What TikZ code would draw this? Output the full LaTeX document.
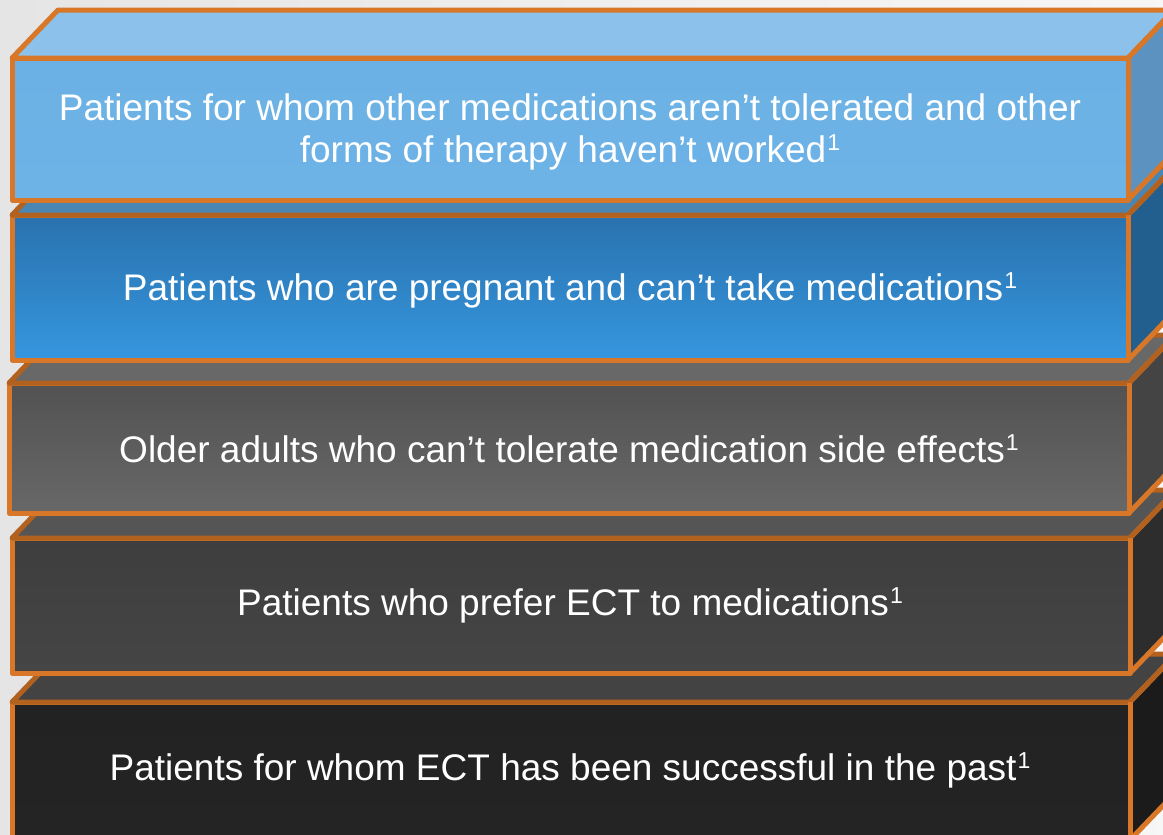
\documentclass[tikz,border=0pt]{standalone}
\usepackage{fontspec}
\setmainfont{Liberation Sans}
\definecolor{edge}{HTML}{D97729}
\definecolor{edgedark}{HTML}{B2611F}
\definecolor{bg}{HTML}{F1F1F1}
\definecolor{aTop}{HTML}{8BC1EA}
\definecolor{aFrontT}{HTML}{6BB1E5}
\definecolor{aFrontM}{HTML}{6CB2E6}
\definecolor{aFrontB}{HTML}{6DB3E6}
\definecolor{aSide}{HTML}{5B92BF}
\definecolor{bTop}{HTML}{4A86B3}
\definecolor{bFrontT}{HTML}{2A72AE}
\definecolor{bFrontM}{HTML}{3190D6}
\definecolor{bFrontB}{HTML}{3596DE}
\definecolor{bSide}{HTML}{235F8E}
\definecolor{cTop}{HTML}{686868}
\definecolor{cFrontT}{HTML}{525252}
\definecolor{cFrontM}{HTML}{5E5E5E}
\definecolor{cFrontB}{HTML}{686868}
\definecolor{cSide}{HTML}{444444}
\definecolor{dTop}{HTML}{555555}
\definecolor{dFrontT}{HTML}{3E3E3E}
\definecolor{dFrontM}{HTML}{414141}
\definecolor{dFrontB}{HTML}{454545}
\definecolor{dSide}{HTML}{2D2D2D}
\definecolor{eTop}{HTML}{434343}
\definecolor{eFrontT}{HTML}{222222}
\definecolor{eFrontM}{HTML}{232323}
\definecolor{eFrontB}{HTML}{242424}
\definecolor{eSide}{HTML}{1B1B1B}
% #1 top y, #2 bottom y, #3 left x, #4 right x, #5 colour prefix, #6 top edge colour
\newcommand\slabbox[6]{%
  \fill[#5Top] (#3,#1) -- ++(46,-48) -- (#4+46,#1-48) -- (#4,#1) -- cycle;
  \fill[#5Side] (#4,#1) -- (#4+46,#1-48) -- (#4+46,#2-48) -- (#4,#2) -- cycle;
  \shade[top color=#5FrontT, middle color=#5FrontM, bottom color=#5FrontB] (#3,#1) rectangle (#4,#2);
  \draw[edgeline] (#4,#1) -- (#4+46,#1-48) -- (#4+46,#2-48) -- (#4,#2);
  \draw[edgeline] (#3,#1) rectangle (#4,#2);
  \draw[edgeline,draw=#6] (#3,#1) -- ++(46,-48) -- (#4+46,#1-48) -- (#4,#1) -- cycle;
  \draw[edgeline] (#4,#1) -- (#4,#2);
}
\newcommand\supone{\kern1pt\raisebox{12pt}{\fontsize{23}{23}\selectfont 1}}
\begin{document}
\begin{tikzpicture}[x=1pt,y=-1pt,
  edgeline/.style={draw=edge,line width=5pt,line join=round},
  lbl/.style={text=white,align=center,font=\fontsize{37}{42}\selectfont,inner sep=0pt}]
\useasboundingbox (0,0) rectangle (1163,835);
\clip (0,0) rectangle (1163,835);
\shade[left color=bg!95!black, right color=bg!60!white] (0,0) rectangle (1163,835);
\slabbox{702}{840}{12}{1130}{e}{edgedark}
\slabbox{538}{673}{12}{1130}{d}{edgedark}
\slabbox{383}{513}{9}{1129}{c}{edgedark}
\slabbox{215}{360}{12}{1128}{b}{edgedark}
\slabbox{58}{200}{12}{1128}{a}{edge}
\node[lbl] (t1) at (570,132) {Patients for whom other medications aren’t tolerated and other\\forms of therapy haven’t worked\supone};
\node[lbl] (t2) at (570,290) {Patients who are pregnant and can’t take medications\supone};
\node[lbl] (t3) at (569,449) {Older adults who can’t tolerate medication side effects\supone};
\node[lbl] (t4) at (570,605) {Patients who prefer ECT to medications\supone};
\node[lbl] (t5) at (570,770) {Patients for whom ECT has been successful in the past\supone};
\end{tikzpicture}
\end{document}
